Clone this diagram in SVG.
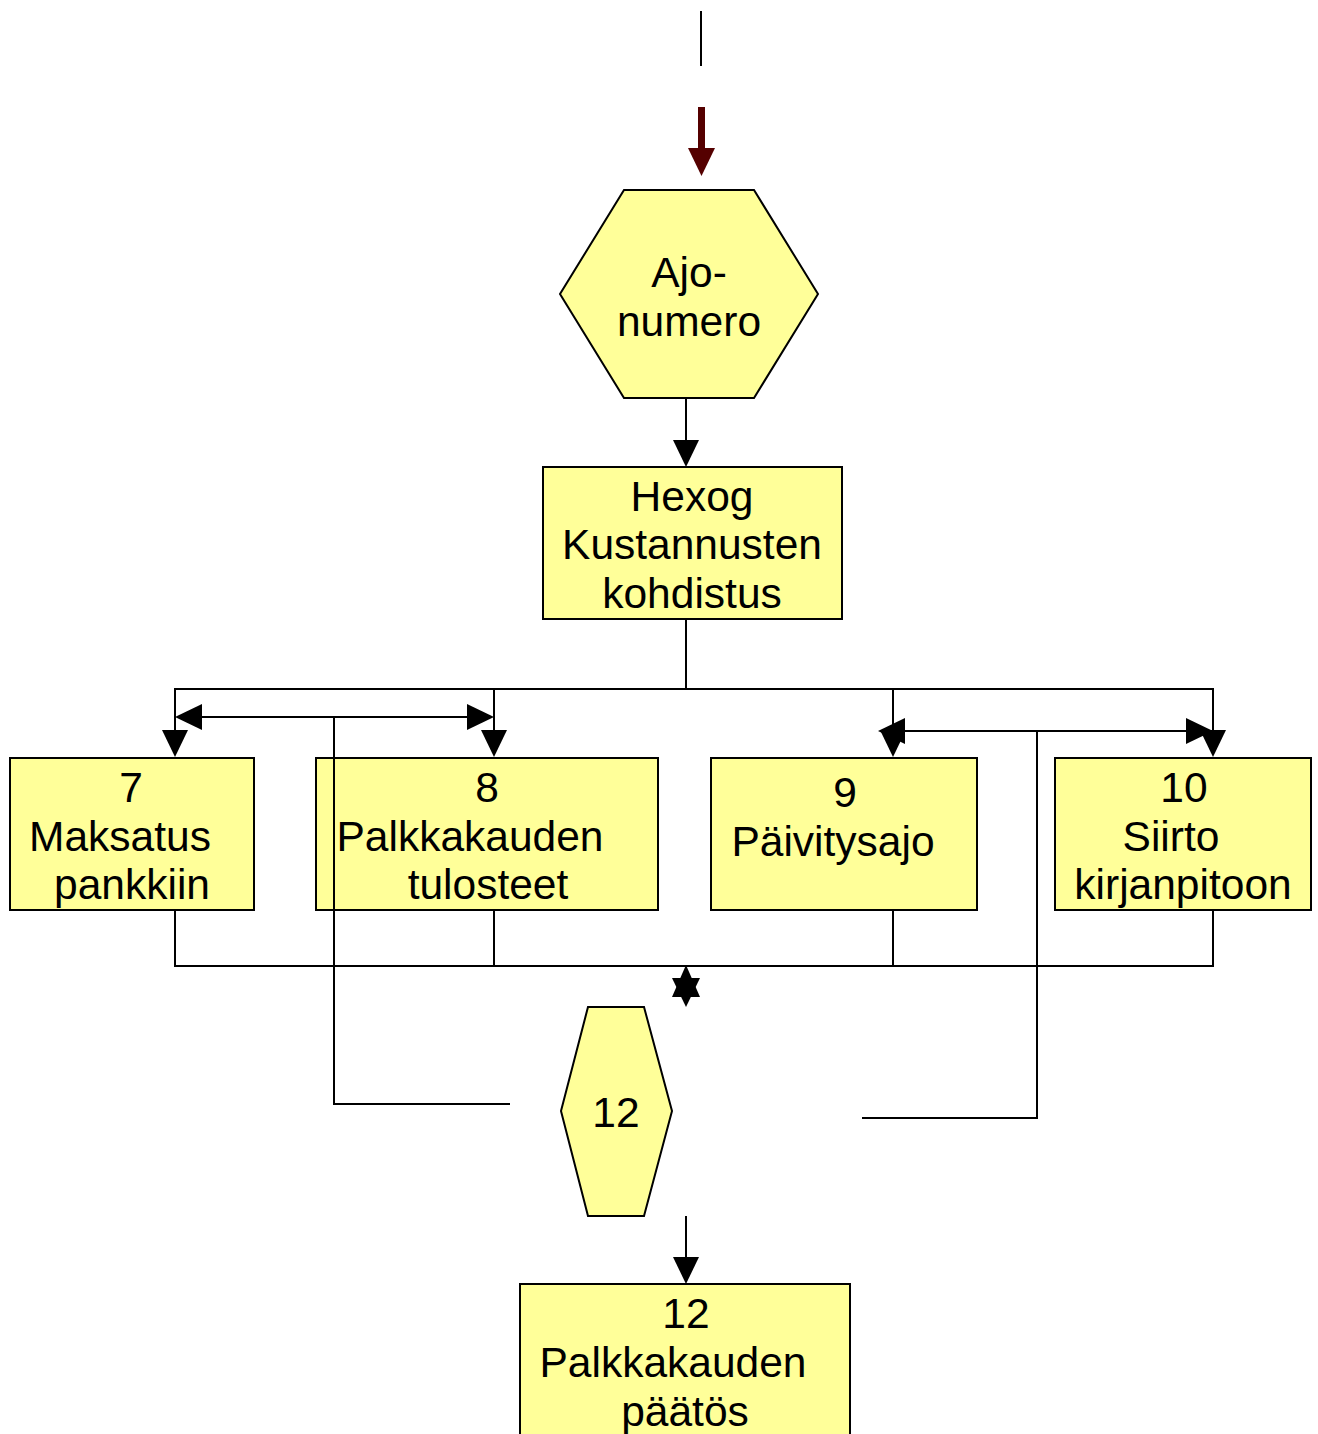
<svg xmlns="http://www.w3.org/2000/svg" width="1318" height="1434" viewBox="0 0 1318 1434">
  <style>
    .node { fill: #ffff99; stroke: #000; stroke-width: 2; }
    .lbl { font-family: "Liberation Sans", Arial, sans-serif; font-size: 42.5px; fill: #000; text-anchor: middle; }
    .wire { fill: none; stroke: #000; stroke-width: 2; }
    .head { fill: #000; stroke: none; }
  </style>
  <rect width="1318" height="1434" fill="#fff"/>

  <!-- incoming flow at the top -->
  <g id="entry">
    <line x1="701" y1="11" x2="701" y2="66" stroke="#000" stroke-width="2"/>
    <rect x="698" y="107" width="7" height="43" fill="#550000"/>
    <polygon points="688,148 715,148 701.5,176" fill="#550000"/>
  </g>

  <g id="ajonumero">
    <polygon class="node" points="624,190 754,190 818,294 754,398 624,398 560,294"/>
    <text class="lbl" x="689" y="287">Ajo-</text>
    <text class="lbl" x="689" y="336">numero</text>
  </g>

  <g id="hexog">
    <rect class="node" x="543" y="467" width="299" height="152"/>
    <text class="lbl" x="692" y="511">Hexog</text>
    <text class="lbl" x="692" y="559">Kustannusten</text>
    <text class="lbl" x="692" y="608">kohdistus</text>
  </g>

  <g id="node7">
    <rect class="node" x="10" y="758" width="244" height="152"/>
    <text class="lbl" x="131" y="802">7</text>
    <text class="lbl" x="120" y="851">Maksatus</text>
    <text class="lbl" x="132" y="899">pankkiin</text>
  </g>

  <g id="node8">
    <rect class="node" x="316" y="758" width="342" height="152"/>
    <text class="lbl" x="487" y="802">8</text>
    <text class="lbl" x="470" y="851">Palkkakauden</text>
    <text class="lbl" x="488" y="899">tulosteet</text>
  </g>

  <g id="node9">
    <rect class="node" x="711" y="758" width="266" height="152"/>
    <text class="lbl" x="845" y="807">9</text>
    <text class="lbl" x="833" y="856">Päivitysajo</text>
  </g>

  <g id="node10">
    <rect class="node" x="1055" y="758" width="256" height="152"/>
    <text class="lbl" x="1184" y="802">10</text>
    <text class="lbl" x="1171" y="851">Siirto</text>
    <text class="lbl" x="1183" y="899">kirjanpitoon</text>
  </g>

  <g id="hex12">
    <polygon class="node" points="588,1007 644,1007 672,1111 644,1216 588,1216 561,1111"/>
    <text class="lbl" x="616" y="1127">12</text>
  </g>

  <g id="node12">
    <rect class="node" x="520" y="1284" width="330" height="170"/>
    <text class="lbl" x="686" y="1328">12</text>
    <text class="lbl" x="673" y="1377">Palkkakauden</text>
    <text class="lbl" x="685" y="1426">päätös</text>
  </g>

  <g id="connectors">
    <!-- Ajo-numero to Hexog -->
    <line class="wire" x1="686" y1="398" x2="686" y2="442"/>
    <polygon class="head" points="673,440 699,440 686,467"/>
    <!-- distribution bus -->
    <line class="wire" x1="686" y1="619" x2="686" y2="689"/>
    <polyline class="wire" points="175,732 175,689 1213,689 1213,732"/>
    <line class="wire" x1="494" y1="689" x2="494" y2="732"/>
    <line class="wire" x1="893" y1="689" x2="893" y2="732"/>
    <polygon class="head" points="162,730 188,730 175,757"/>
    <polygon class="head" points="481,730 507,730 494,757"/>
    <polygon class="head" points="880,730 906,730 893,757"/>
    <polygon class="head" points="1200,730 1226,730 1213,757"/>
    <!-- left return loop -->
    <line class="wire" x1="200" y1="717" x2="470" y2="717"/>
    <polygon class="head" points="175,717 202,704 202,730"/>
    <polygon class="head" points="494,717 467,704 467,730"/>
    <polyline class="wire" points="334,717 334,1104 510,1104"/>
    <!-- right return loop -->
    <line class="wire" x1="903" y1="731" x2="1188" y2="731"/>
    <polygon class="head" points="878,731 905,718 905,744"/>
    <polygon class="head" points="1213,731 1186,718 1186,744"/>
    <polyline class="wire" points="862,1118 1037,1118 1037,731"/>
    <!-- collection bus -->
    <polyline class="wire" points="175,910 175,966 1213,966 1213,910"/>
    <line class="wire" x1="494" y1="910" x2="494" y2="966"/>
    <line class="wire" x1="893" y1="910" x2="893" y2="966"/>
    <polygon class="head" points="686,965 672,997 700,997"/>
    <polygon class="head" points="672,978 700,978 686,1007"/>
    <!-- 12 to Palkkakauden päätös -->
    <line class="wire" x1="686" y1="1216" x2="686" y2="1259"/>
    <polygon class="head" points="673,1257 699,1257 686,1284"/>
  </g>
</svg>
